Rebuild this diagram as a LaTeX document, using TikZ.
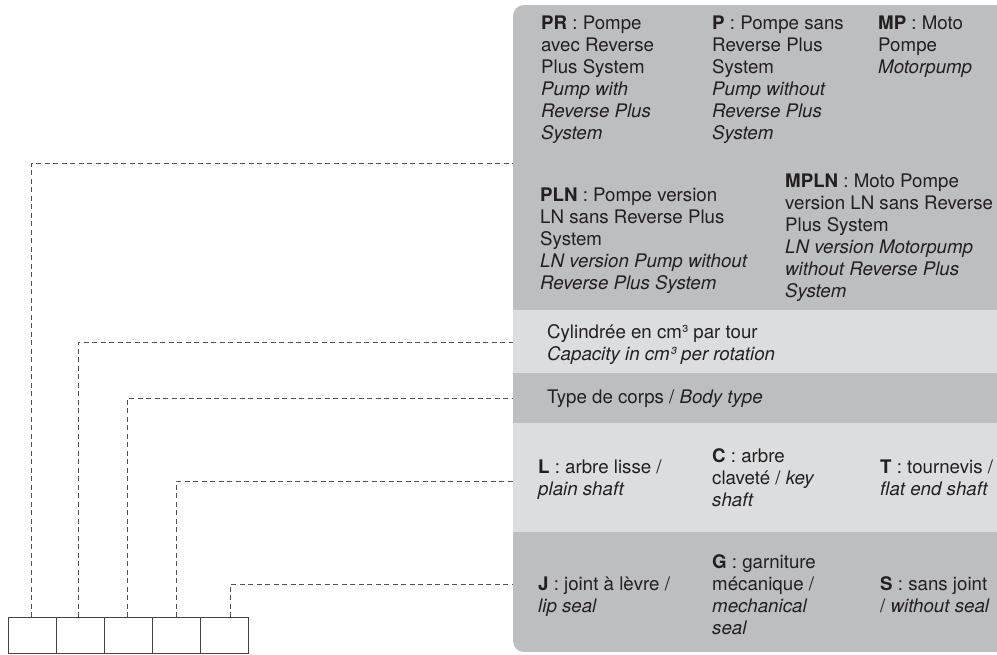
\documentclass[tikz,border=0pt]{standalone}
\usepackage{fontspec}
\setmainfont{TeX Gyre Heros}
\definecolor{dk}{HTML}{BDBEC0}
\definecolor{lt}{HTML}{DCDDDE}
\definecolor{ink}{HTML}{231F20}
\definecolor{dashc}{HTML}{505050}
\definecolor{boxc}{HTML}{444444}
\newcommand{\mlines}[1]{\begin{tabular}[t]{@{}l@{}}#1\end{tabular}}
\begin{document}
\begin{tikzpicture}[x=1pt,y=-1pt,
 txt/.style={anchor=base west, inner sep=0pt, text=ink, font=\fontsize{18.7}{22}\selectfont},
 cell/.style={draw=boxc, line width=1pt, minimum width=48pt, minimum height=36pt, inner sep=0pt, outer sep=0pt, anchor=north west},
 conn/.style={draw=dashc, line width=0.9pt, dash pattern=on 5pt off 3.5pt}]
\useasboundingbox (0,0) rectangle (997,654);
% panel
\begin{scope}
\clip[rounded corners=11pt] (513,5) rectangle (1030,652);
\fill[dk] (513,5) rectangle (1030,310);
\fill[lt] (513,310) rectangle (1030,373);
\fill[dk] (513,373) rectangle (1030,423);
\fill[lt] (513,423) rectangle (1030,532);
\fill[dk] (513,532) rectangle (1030,652);
\end{scope}
% texts
\node[txt] (pr) at (541,29) {\mlines{\textbf{PR} : Pompe\\avec Reverse\\Plus System\\\textit{Pump with}\\\textit{Reverse Plus}\\\textit{System}}};
\node[txt] (p) at (712,29) {\mlines{\textbf{P} : Pompe sans\\Reverse Plus\\System\\\textit{Pump without}\\\textit{Reverse Plus}\\\textit{System}}};
\node[txt] (mp) at (878,29) {\mlines{\textbf{MP} : Moto\\Pompe\\\textit{Motorpump}}};
\node[txt] (pln) at (540,201) {\mlines{\textbf{PLN} : Pompe version\\LN sans Reverse Plus\\System\\\textit{LN version Pump without}\\\textit{Reverse Plus System}}};
\node[txt] (mpln) at (785,187) {\mlines{\textbf{MPLN} : Moto Pompe\\version LN sans Reverse\\Plus System\\\textit{LN version Motorpump}\\\textit{without Reverse Plus}\\\textit{System}}};
\node[txt] (cyl) at (547,338) {\mlines{Cylindrée en cm³ par tour\\\textit{Capacity in cm³ per rotation}}};
\node[txt] (typ) at (547,403) {Type de corps / \textit{Body type}};
\node[txt] (l) at (538,473) {\mlines{\textbf{L} : arbre lisse /\\\textit{plain shaft}}};
\node[txt] (c) at (712,462) {\mlines{\textbf{C} : arbre\\claveté / \textit{key}\\\textit{shaft}}};
\node[txt] (t) at (880,473) {\mlines{\textbf{T} : tournevis /\\\textit{flat end shaft}}};
\node[txt] (j) at (538,590) {\mlines{\textbf{J} : joint à lèvre /\\\textit{lip seal}}};
\node[txt] (g) at (712,568) {\mlines{\textbf{G} : garniture\\mécanique /\\\textit{mechanical}\\\textit{seal}}};
\node[txt] (s) at (880,590) {\mlines{\textbf{S} : sans joint\\/ \textit{without seal}}};
% boxes
\node[cell] (b1) at (8,617) {};
\node[cell] (b2) at (56,617) {};
\node[cell] (b3) at (104,617) {};
\node[cell] (b4) at (152,617) {};
\node[cell] (b5) at (200,617) {};
% connector ends at the panel
\coordinate (e1) at (513,163);
\coordinate (e2) at (513,342);
\coordinate (e3) at (513,398);
\coordinate (e4) at (513,481);
\coordinate (e5) at (513,584);
\draw[conn] ([xshift=-1pt]b1.north) |- (e1);
\draw[conn] ([xshift=-2pt]b2.north) |- (e2);
\draw[conn] ([xshift=-1pt]b3.north) |- (e3);
\draw[conn] (b4.north) |- (e4);
\draw[conn] ([xshift=6pt]b5.north) |- (e5);
\end{tikzpicture}
\end{document}
